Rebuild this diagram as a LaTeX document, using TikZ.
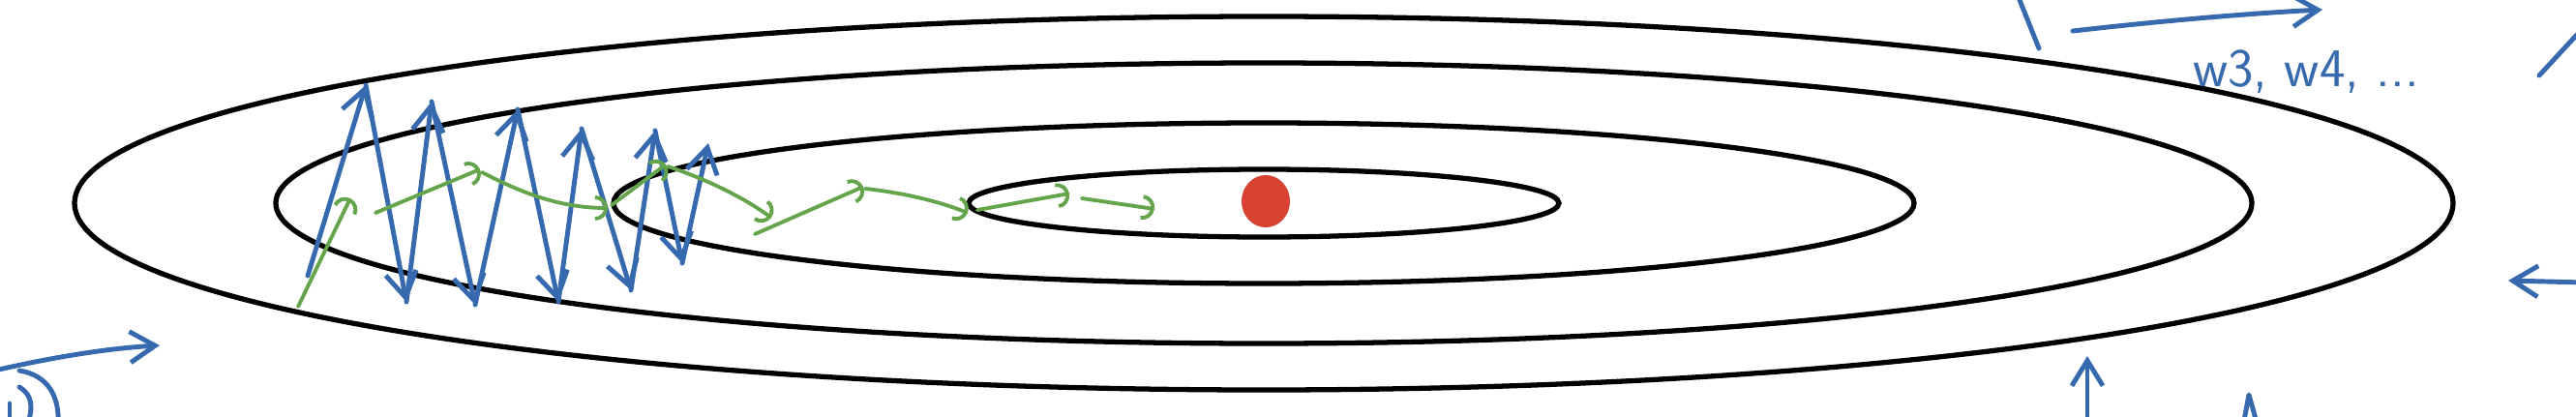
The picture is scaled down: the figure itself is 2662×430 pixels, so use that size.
\documentclass[tikz,border=0pt]{standalone}
\usetikzlibrary{arrows.meta}
\definecolor{penblue}{RGB}{55,105,175}
\definecolor{pengreen}{RGB}{100,165,75}
\definecolor{dotred}{RGB}{215,65,50}
\tikzset{
  contour/.style={line width=1.5pt},
  pen/.style={penblue,line width=1.4pt,line cap=round,line join=round},
  zig/.style={pen,-{Straight Barb[length=2.6mm,width=3.2mm]}},
  momentum/.style={pengreen,line width=1.1pt,line cap=round,-{Arc Barb[length=1.3mm,width=2.6mm]}},
}
\begin{document}
\begin{tikzpicture}[x=0.01cm,y=-0.01cm]
    \useasboundingbox (0,0) rectangle (2662,430);

    \foreach \rx/\ry in {1229/193,1021/145,672/83,305/35}
      \draw[contour] (1306,210) ellipse [x radius=\rx, y radius=\ry];
    \fill[dotred] (1308,208) circle [x radius=25, y radius=27];

    % oscillating steps
    \foreach \px/\py [count=\i from 0] in {318/285,378/88,420/312,446/105,491/315,535/113,
      577/312,601/133,652/300,677/135,705/272,732/148}
      \coordinate (z\i) at (\px,\py);
    \foreach \i [evaluate=\i as \j using int(\i+1)] in {0,...,10}
      \draw[zig] (z\i) -- (z\j);

    % smoothed steps
    \draw[momentum] (308,317) -- (362,205);
    \draw[momentum] (388,220) -- (496,175);
    \draw[momentum] (498,178) .. controls (540,200) and (580,215) .. (628,215);
    \draw[momentum] (632,212) -- (688,170);
    \draw[momentum] (690,172) .. controls (730,185) and (770,205) .. (797,225);
    \draw[momentum] (780,242) -- (892,193);
    \draw[momentum] (894,195) .. controls (940,200) and (975,210) .. (1000,220);
    \draw[momentum] (1010,217) -- (1105,200);
    \draw[momentum] (1118,205) -- (1193,216);

    % pen marks at the border
    \draw[pen] (2087,0) -- (2107,50);
    \draw[zig] (2142,32) .. controls (2230,22) and (2320,14) .. (2400,10);
    \node[penblue,font=\sffamily\fontsize{16}{18}\selectfont] (wlist) at (2383,74) {w3, w4, ...};
    \draw[pen] (2624,78) -- (2672,26);
    \draw[zig] (2670,292) -- (2592,290);
    \draw[zig] (2157,440) -- (2157,368);
    \draw[pen] (2318,440) -- (2324,408) -- (2333,440);
    \draw[zig] (-10,384) .. controls (50,370) and (110,360) .. (165,357);
    \draw[pen] (20,383) .. controls (50,388) and (62,410) .. (60,440);
    \draw[pen] (20,400) .. controls (33,408) and (35,420) .. (28,440);
    \draw[pen] (10,417) -- (10,440);
\end{tikzpicture}
\end{document}
